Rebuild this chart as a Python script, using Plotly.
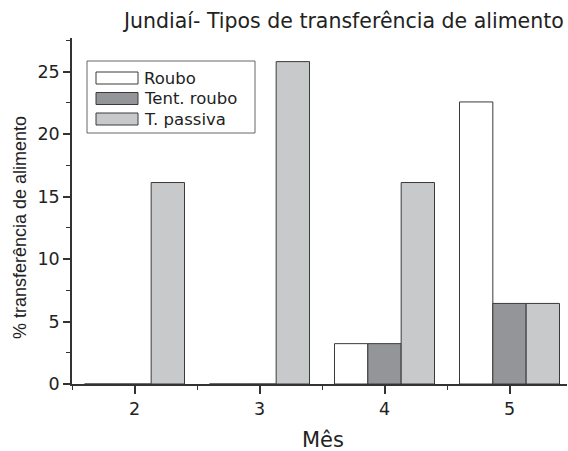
import plotly.graph_objects as go

# Monthly food-transfer types (percent)
months = [2, 3, 4, 5]
roubo = [0, 0, 3.23, 22.58]
tent_roubo = [0, 0, 3.23, 6.45]
t_passiva = [16.13, 25.81, 16.13, 6.45]

names = ["Roubo", "Tent. roubo", "T. passiva"]
values = [roubo, tent_roubo, t_passiva]
colors = ["#ffffff", "#939598", "#c8c9cb"]
edge = "#3a3a3a"

# plot-area geometry in pixels (used to place the legend box and titles)
W, H = 568, 451
L, R, T, B = 72, 1, 38, 67
PW, PH = W - L - R, H - T - B


def px(x):
    return (x - L) / PW


def py(y):
    return (H - B - y) / PH


fig = go.Figure()
for name, vals, color in zip(names, values, colors):
    fig.add_trace(go.Bar(
        x=months, y=vals, name=name, showlegend=False,
        marker=dict(color=color, line=dict(color=edge, width=1)),
    ))

wide = "DejaVu Sans, Verdana, sans-serif"
narrow = "Liberation Sans, Arial, sans-serif"
txt = "#222222"
axis_col = "#333333"

shapes = []
annotations = []

# legend box with wide swatches
shapes.append(dict(type="rect", xref="paper", yref="paper",
                   x0=px(87), x1=px(255), y0=py(133), y1=py(61),
                   line=dict(color="#666666", width=1), fillcolor="white", layer="above"))
for i, (name, color) in enumerate(zip(names, colors)):
    cy = 78 + i * 20.5
    shapes.append(dict(type="rect", xref="paper", yref="paper",
                       x0=px(96), x1=px(138), y0=py(cy + 6), y1=py(cy - 6),
                       line=dict(color=edge, width=1), fillcolor=color, layer="above"))
    annotations.append(dict(text=name, xref="paper", yref="paper",
                            x=px(142), y=py(cy), xanchor="left", yanchor="middle",
                            showarrow=False, font=dict(family=wide, size=16.5, color=txt)))

annotations += [
    dict(text="Jundiaí- Tipos de transferência de alimento", xref="paper", yref="paper",
         x=px(566), y=py(21), xanchor="right", yanchor="middle", showarrow=False,
         font=dict(family=wide, size=20.5, color=txt)),
    dict(text="Mês", xref="paper", yref="paper",
         x=px(323), y=py(440), xanchor="center", yanchor="middle", showarrow=False,
         font=dict(family=wide, size=21, color=txt)),
    dict(text="% transferência de alimento", xref="paper", yref="paper",
         x=px(20), y=py(228), xanchor="center", yanchor="middle", showarrow=False,
         textangle=-90, font=dict(family=narrow, size=18, color=txt)),
]

fig.update_layout(
    width=W, height=H,
    margin=dict(l=L, r=R, t=T, b=B),
    paper_bgcolor="white", plot_bgcolor="white",
    barmode="group", bargap=0.2, bargroupgap=0,
    font=dict(family=wide, color=txt, size=17),
    shapes=shapes, annotations=annotations,
    xaxis=dict(
        range=[1.5, 5.46], tickvals=months, ticktext=[str(m) for m in months],
        showline=True, linecolor=axis_col, linewidth=1.5,
        ticks="outside", ticklen=8, tickwidth=1.5, tickcolor=axis_col,
        minor=dict(ticks="outside", ticklen=4, tickwidth=1, tickcolor=axis_col,
                   tick0=1.5, dtick=1),
        showgrid=False, zeroline=False,
        tickfont=dict(family=wide, size=17.5),
    ),
    yaxis=dict(
        range=[0, 27.7], dtick=5, tick0=0,
        showline=True, linecolor=axis_col, linewidth=1.5,
        ticks="outside", ticklen=7, tickwidth=1.5, tickcolor=axis_col,
        minor=dict(ticks="outside", ticklen=4, tickwidth=1, tickcolor=axis_col,
                   tick0=2.5, dtick=5),
        showgrid=False, zeroline=False,
        tickfont=dict(family=wide, size=17.5),
    ),
)

fig.write_html("out.html")
